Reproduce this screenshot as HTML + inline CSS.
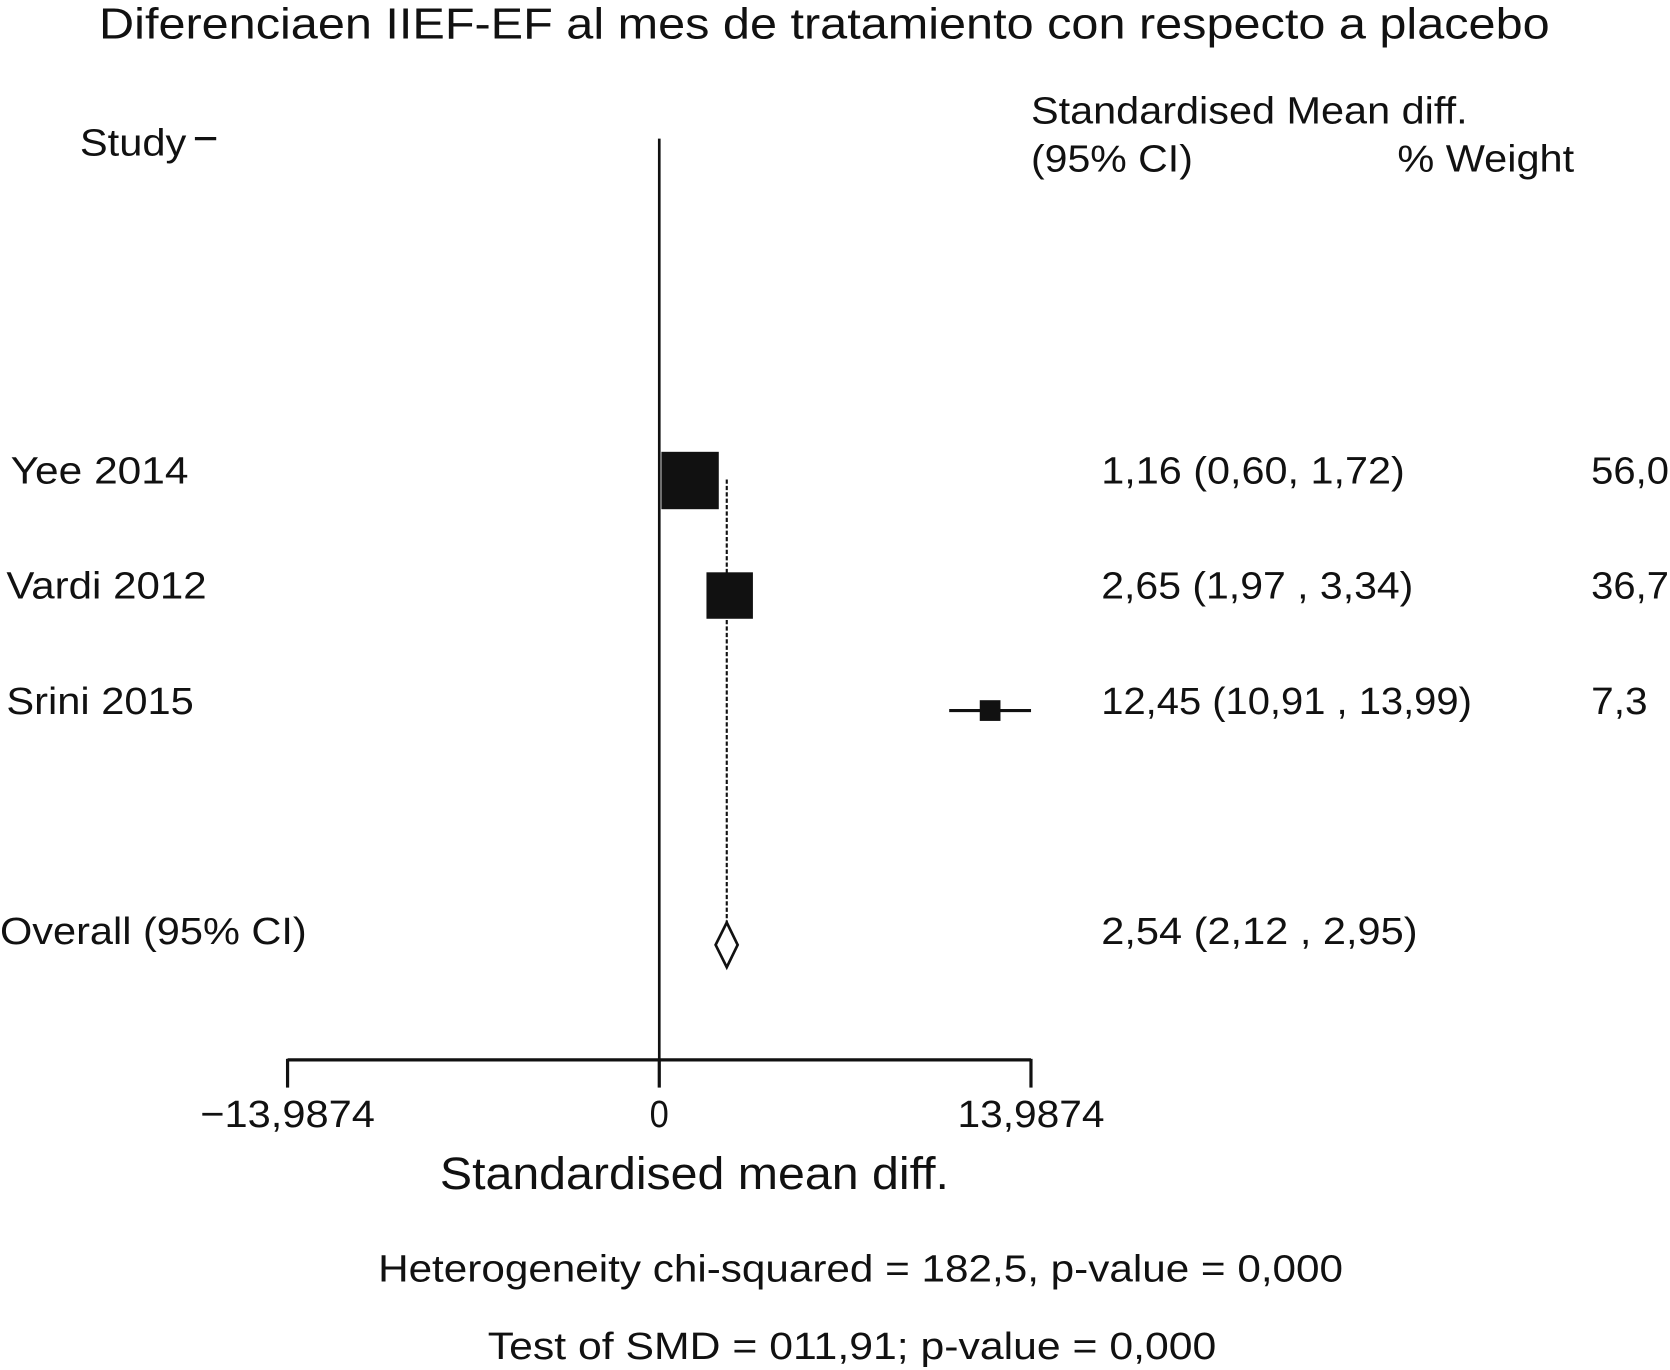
<!DOCTYPE html>
<html><head><meta charset="utf-8"><style>
html,body{margin:0;padding:0;background:#fff;}
svg{display:block;}
text{font-family:"Liberation Sans",sans-serif;fill:#111;}
</style></head><body>
<svg id="chart" width="1670" height="1370" viewBox="0 0 1568 1286" xmlns="http://www.w3.org/2000/svg">
<text x="93" y="36" font-size="41" textLength="1362" lengthAdjust="spacingAndGlyphs">Diferenciaen IIEF-EF al mes de tratamiento con respecto a placebo</text>
<text x="75" y="146" font-size="36" textLength="100" lengthAdjust="spacingAndGlyphs">Study</text>
<line x1="183" y1="130" x2="203" y2="130" stroke="#111" stroke-width="3"/>
<text x="968" y="116" font-size="36" textLength="410" lengthAdjust="spacingAndGlyphs">Standardised Mean diff.</text>
<text x="968" y="161" font-size="36" textLength="152" lengthAdjust="spacingAndGlyphs">(95% CI)</text>
<text x="1312" y="161" font-size="36" textLength="166" lengthAdjust="spacingAndGlyphs">% Weight</text>
<line x1="619" y1="130" x2="619" y2="995" stroke="#111" stroke-width="2.5"/>
<g id="marks"></g>
<text x="652" y="1116" font-size="43" text-anchor="middle" textLength="478" lengthAdjust="spacingAndGlyphs">Standardised mean diff.</text>
<text x="808" y="1203" font-size="36" text-anchor="middle" textLength="906" lengthAdjust="spacingAndGlyphs">Heterogeneity chi-squared = 182,5, p-value = 0,000</text>
<text x="800" y="1276" font-size="36" text-anchor="middle" textLength="684" lengthAdjust="spacingAndGlyphs">Test of SMD = 011,91; p-value = 0,000</text>
</svg>
<script>
const studies = ["Yee 2014", "Vardi 2012", "Srini 2015"];
const estimates = [1.16, 2.65, 12.45];
const lowerCI = [0.60, 1.97, 10.91];
const upperCI = [1.72, 3.34, 13.99];
const weights = [56.0, 36.7, 7.3];
const ciLabels = ["1,16 (0,60, 1,72)", "2,65 (1,97 , 3,34)", "12,45 (10,91 , 13,99)"];
const weightLabels = ["56,0", "36,7", "7,3"];
const overall = [2.54, 2.12, 2.95];
const overallLabel = "2,54 (2,12 , 2,95)";
const tickValues = [-13.9874, 0, 13.9874];
const tickLabels = ["\u221213,9874", "0", "13,9874"];

const NS = "http://www.w3.org/2000/svg";
const g = document.getElementById("marks");
const xScale = v => 619 + v * (349 / 13.9874);
const rowY = i => 451 + i * 108;
const overallY = 887;
const labelX = [10, 6, 6], labelW = [167, 188, 176];
const valW = [285, 293, 348], weightW = [73, 73, 53];
function mk(tag, attrs, parent) {
  const e = document.createElementNS(NS, tag);
  for (const k in attrs) e.setAttribute(k, attrs[k]);
  (parent || g).appendChild(e);
  return e;
}
const dl = mk("line", {x1: xScale(overall[0]), x2: xScale(overall[0]), y1: 450, y2: overallY - 21, stroke: "#111", "stroke-width": 2, "stroke-dasharray": "4,2"});



studies.forEach((s, i) => {
  const y = rowY(i);
  const ci = mk("line", {x1: xScale(lowerCI[i]), x2: xScale(upperCI[i]), y1: y, y2: y, stroke: "#111", "stroke-width": 3});
  
  
  const size = Math.sqrt(weights[i]) * 7.2;
  const box = mk("rect", {x: xScale(estimates[i]) - size / 2, y: y - size / 2, width: size, height: size, fill: "#111"});
  
  
  const lab = mk("text", {x: labelX[i], y: y + 3, "font-size": 36, textLength: labelW[i], lengthAdjust: "spacingAndGlyphs"});
  lab.textContent = s;
  
  
  const v = mk("text", {x: 1034, y: y + 3, "font-size": 36, textLength: valW[i], lengthAdjust: "spacingAndGlyphs"});
  v.textContent = ciLabels[i];
  
  
  const w = mk("text", {x: 1494, y: y + 3, "font-size": 36, textLength: weightW[i], lengthAdjust: "spacingAndGlyphs"});
  w.textContent = weightLabels[i];
  
  
});

const dm = mk("polygon", {points: `${xScale(overall[1])},${overallY} ${xScale(overall[0])},${overallY-21} ${xScale(overall[2])},${overallY} ${xScale(overall[0])},${overallY+21}`, fill: "#fff", stroke: "#111", "stroke-width": 2.5});


const ol = mk("text", {x: 0, y: 886, "font-size": 36, textLength: 288, lengthAdjust: "spacingAndGlyphs"});
ol.textContent = "Overall (95% CI)";


const ov = mk("text", {x: 1034, y: 886, "font-size": 36, textLength: 297, lengthAdjust: "spacingAndGlyphs"});
ov.textContent = overallLabel;



const ax = mk("line", {x1: xScale(tickValues[0]), x2: xScale(tickValues[2]), y1: 995, y2: 995, stroke: "#111", "stroke-width": 3});


const tickW = [164, 18, 138];
tickValues.forEach((t, i) => {
  const tk = mk("line", {x1: xScale(t), x2: xScale(t), y1: 994, y2: 1021, stroke: "#111", "stroke-width": 3});
  
  
  const tl = mk("text", {x: xScale(t), y: 1058, "font-size": 36, "text-anchor": "middle", textLength: tickW[i], lengthAdjust: "spacingAndGlyphs"});
  tl.textContent = tickLabels[i];
  
  
});
</script>
</body></html>
